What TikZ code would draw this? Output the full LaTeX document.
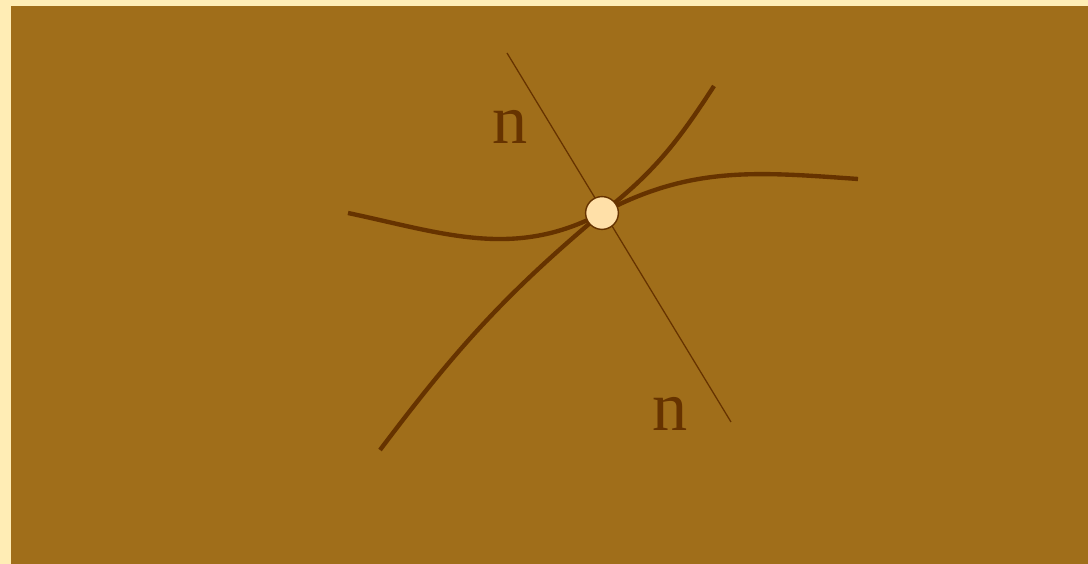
\documentclass[tikz,border=0pt]{standalone}
\usepackage{fontspec}
\setmainfont{Liberation Serif}
\usepackage{xcolor}
\usepackage{tikz}
\usetikzlibrary{positioning}
\definecolor{cream}{RGB}{255,237,181}
\definecolor{ochre}{RGB}{160,110,26}
\definecolor{umber}{RGB}{102,51,0}
\definecolor{pale}{RGB}{255,224,168}

\begin{document}
\begin{tikzpicture}[
    x=0.025cm, y=0.025cm,
    curve/.style={draw=umber, line width=3.1pt},
    normal/.style={draw=umber, line width=0.9pt},
    point/.style={circle, draw=umber, fill=pale, line width=1pt, minimum size=0.82cm, inner sep=0pt},
    label/.style={text=umber, font=\fontsize{50}{50}\selectfont, inner sep=0pt}
]

% Background
\fill[cream] (0,0) rectangle (1088,564);
\fill[ochre] (11,0) rectangle (1088,558);
\useasboundingbox (0,0) rectangle (1088,564);

% End points
\coordinate (na) at (507,511);
\coordinate (nb) at (731,142);
\coordinate (fl) at (348,351);
\coordinate (fr) at (858,385);
\coordinate (sl) at (380,114);
\coordinate (sr) at (714,478);
\coordinate (pc) at (602,351);

% Normal line
\draw[normal] (na) -- (nb);

% Curves
\draw[curve] (fl) to[out=-12, in=208] (pc) to[out=28, in=176] (fr);
\draw[curve] (sl) to[out=53, in=220] (pc) to[out=38, in=237] (sr);

% Point
\node[point] (p) at (pc) {};

% Labels
\node[label] (n1) at (510,437) {n};
\node[label] (n2) at (670,150) {n};

\end{tikzpicture}
\end{document}
